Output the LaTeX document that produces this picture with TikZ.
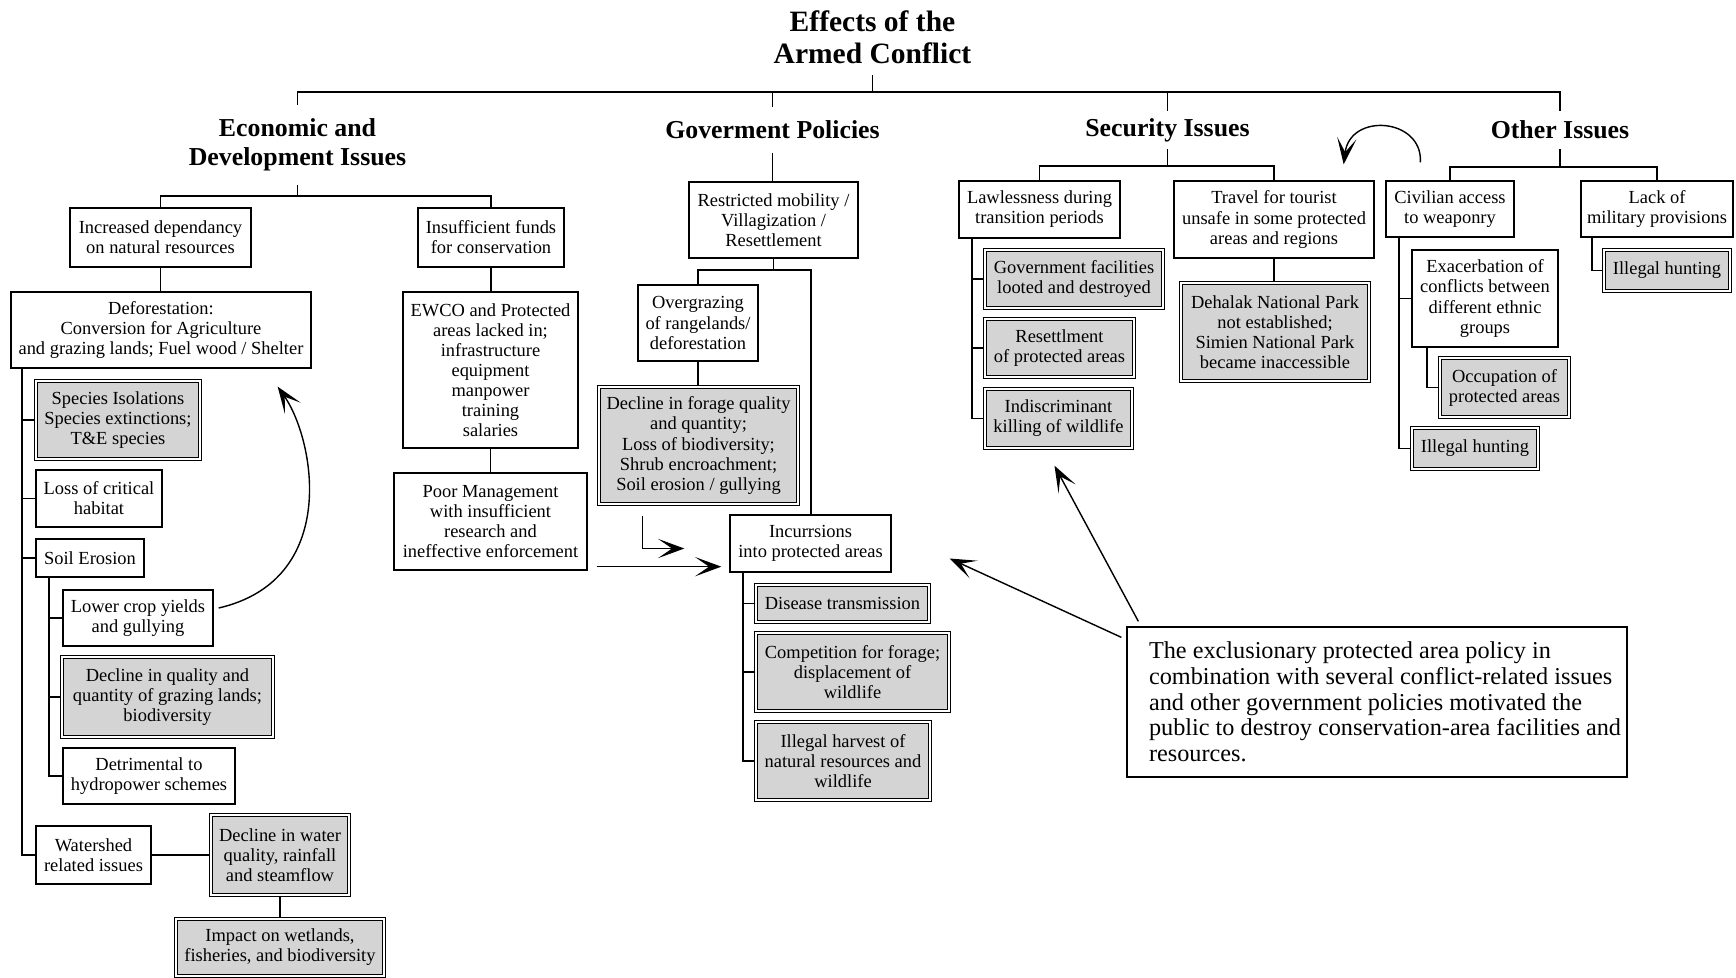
\documentclass[tikz,border=0pt]{standalone}
\usepackage{fontspec}
\setmainfont{Liberation Serif}
\usetikzlibrary{calc,arrows.meta}
\definecolor{boxgray}{RGB}{212,212,212}
\newcommand{\bx}[7][box]{\node[#1,minimum width={(#5-(#3))*0.02cm},minimum height={(#6-(#4))*0.02cm}] (#2) at ({(#3+#5)/2},{(#4+#6)/2}) {#7};}
\newcommand{\ind}{\hspace*{0.32cm}}
\begin{document}
\begin{tikzpicture}[x=0.02cm,y=-0.02cm,
  every node/.style={font=\fontsize{10.5}{11.4}\selectfont},
  box/.style={draw,line width=0.75pt,inner sep=0pt,align=center},
  gbox/.style={draw,line width=0.75pt,double=white,double distance=0.7pt,fill=boxgray,inner sep=0pt,align=center},
  hd/.style={inner sep=0pt,align=center,font=\bfseries\fontsize{14.7}{16.5}\selectfont},
  ttl/.style={inner sep=0pt,align=center,font=\bfseries\fontsize{16.8}{18.2}\selectfont},
  notebox/.style={draw,line width=0.75pt,inner sep=0pt,align=left,font=\fontsize{13.8}{14.6}\selectfont},
  ln/.style={line width=0.8pt},
  arr/.style={line width=0.8pt,-{Stealth[length=15pt,width=11pt,inset=8pt]}}]
\useasboundingbox (0,0) rectangle (1736,977);

% ---------- title and headings ----------
\bx[ttl]{title}{760}{0}{985}{75}{Effects of the\\Armed Conflict}
\bx[hd]{econ}{190}{105}{405}{185}{Economic and\\Development Issues}
\bx[hd]{gov}{660}{107}{885}{153}{Goverment Policies}
\bx[hd]{sec}{1060}{111}{1275}{149}{Security Issues}
\bx[hd]{other}{1440}{111}{1680}{149}{Other Issues}
\coordinate (bar) at (0,92);
\draw[ln] (econ.north) |- (other.north |- bar) -- (other.north);
\draw[ln] (gov.north) -- (gov.north |- bar);
\draw[ln] (sec.north) -- (sec.north |- bar);
\draw[ln] (title.south) -- (title.south |- bar);

% ---------- economic ----------
\bx{incr}{70}{208}{251}{267}{Increased dependancy\\on natural resources}
\bx{insuff}{418}{208}{564}{267}{Insufficient funds\\for conservation}
\coordinate (eb) at (0,196);
\draw[ln] (econ.south) -- (econ.south |- eb);
\draw[ln] (incr.north) |- (insuff.north |- eb) -- (insuff.north);
\bx{deforest}{11}{292}{311}{368}{Deforestation:\\Conversion for Agriculture\\and grazing lands; Fuel wood / Shelter}
\draw[ln] (incr.south) -- (incr.south |- deforest.north);
\bx{ewco}{403}{292}{578}{448}{EWCO and Protected\\areas lacked in;\\infrastructure\\equipment\\manpower\\training\\salaries}
\bx{poor}{394}{473}{587}{570}{Poor Management\\with insufficient\\research and\\ineffective enforcement}
\draw[ln] (insuff.south) -- (insuff.south |- ewco.north);
\draw[ln] (ewco.south) -- (ewco.south |- poor.north);

\bx[gbox]{species}{36}{381}{200}{459}{Species Isolations\\Species extinctions;\\T\&E species}
\bx{loss}{36}{470}{162}{527}{Loss of critical\\habitat}
\bx{soil}{36}{539}{144}{577}{Soil Erosion}
\bx{water}{36}{826}{151}{884}{Watershed\\related issues}
\coordinate (t1) at (22,0);
\draw[ln] (deforest.south -| t1) |- (water.west);
\foreach \n in {species,loss,soil} \draw[ln] (\n.west) -- (\n.west -| t1);

\bx{lower}{63}{590}{213}{646}{Lower crop yields\\and gullying}
\bx[gbox]{graz}{62}{657}{273}{737}{Decline in quality and\\quantity of grazing lands;\\biodiversity}
\bx{hydro}{63}{748}{235}{804}{Detrimental to\\hydropower schemes}
\coordinate (t2) at (49,0);
\draw[ln] (soil.south -| t2) |- (hydro.west);
\foreach \n in {lower,graz} \draw[ln] (\n.west) -- (\n.west -| t2);

\bx[gbox]{wq}{211}{815}{349}{895}{Decline in water\\quality, rainfall\\and steamflow}
\bx[gbox]{impact}{176}{919}{384}{976}{Impact on wetlands,\\fisheries, and biodiversity}
\draw[ln] (water.east) -- (water.east -| wq.west);
\draw[ln] (wq.south) -- (wq.south |- impact.north);

\draw[arr] ($(lower.east)+(5,-10)$) .. controls (340,580) and (315,440) .. ($(deforest.south east)+(-34,18)$);

% ---------- government ----------
\bx{restr}{689}{182}{858}{258}{Restricted mobility /\\Villagization /\\Resettlement}
\draw[ln] (gov.south) -- (gov.south |- restr.north);
\bx{over}{638}{285}{758}{361}{Overgrazing\\of rangelands/\\deforestation}
\bx[gbox]{forage}{599}{387}{798}{504}{Decline in forage quality\\and quantity;\\Loss of biodiversity;\\Shrub encroachment;\\Soil erosion / gullying}
\bx{incur}{730}{515}{891}{572}{Incurrsions\\into protected areas}
\coordinate (gb) at (0,270);
\coordinate (gr) at (811,270);
\draw[ln] (restr.south) -- (restr.south |- gb);
\draw[ln] (over.north) |- (gr) -- (gr |- incur.north);
\draw[ln] (over.south) -- (over.south |- forage.north);
\draw[arr] ($(forage.south)+(-56,11)$) |- ($(incur.west)+(-45,5)$);
\draw[arr] ($(poor.south east)+(9,-4)$) -- ($(incur.south west)+(-8,-6)$);

\bx[gbox]{dis}{756}{585}{929}{622}{Disease transmission}
\bx[gbox]{comp}{756}{633}{949}{711}{Competition for forage;\\displacement of\\wildlife}
\bx[gbox]{harv}{756}{722}{930}{800}{Illegal harvest of\\natural resources and\\wildlife}
\coordinate (t3) at (743,0);
\draw[ln] (incur.south -| t3) |- (harv.west);
\foreach \n in {dis,comp} \draw[ln] (\n.west) -- (\n.west -| t3);

% ---------- security ----------
\bx{law}{959}{181}{1120}{238}{Lawlessness during\\transition periods}
\bx{travel}{1174}{181}{1374}{258}{Travel for tourist\\unsafe in some protected\\areas and regions}
\coordinate (sb) at (0,166);
\draw[ln] (sec.south) -- (sec.south |- sb);
\draw[ln] (law.north) |- (travel.north |- sb) -- (travel.north);
\bx[gbox]{govf}{985}{250}{1163}{308}{Government facilities\\looted and destroyed}
\bx[gbox]{reset}{985}{319}{1134}{377}{Resettlment\\of protected areas}
\bx[gbox]{indis}{985}{389}{1132}{448}{Indiscriminant\\killing of wildlife}
\coordinate (t4) at (972,0);
\draw[ln] (law.south -| t4) |- (indis.west);
\foreach \n in {govf,reset} \draw[ln] (\n.west) -- (\n.west -| t4);
\bx[gbox]{dehalak}{1181}{283}{1369}{381}{Dehalak National Park\\not established;\\Simien National Park\\became inaccessible}
\draw[ln] (travel.south) -- (travel.south |- dehalak.north);

% ---------- other ----------
\bx{civ}{1386}{181}{1514}{237}{Civilian access\\to weaponry}
\bx{lack}{1581}{181}{1733}{237}{Lack of\\military provisions}
\coordinate (ob) at (0,167);
\draw[ln] (other.south) -- (other.south |- ob);
\draw[ln] (civ.north) |- (lack.north |- ob) -- (lack.north);
\bx{exac}{1412}{250}{1558}{347}{Exacerbation of\\conflicts between\\different ethnic\\groups}
\bx[gbox]{occ}{1440}{358}{1569}{417}{Occupation of\\protected areas}
\bx[gbox]{ihl}{1412}{428}{1538}{469}{Illegal hunting}
\bx[gbox]{ihr}{1604}{250}{1730}{291}{Illegal hunting}
\coordinate (t5) at (1399,0);
\draw[ln] (civ.south -| t5) |- (ihl.west);
\draw[ln] (exac.west) -- (exac.west -| t5);
\coordinate (t6) at (1427,0);
\draw[ln] (exac.south -| t6) |- (occ.west);
\coordinate (t7) at (1592,0);
\draw[ln] (lack.south -| t7) |- (ihr.west);

\draw[arr] ($(civ.north west)+(35,-18)$) .. controls (1423,118) and (1350,112) .. ($(travel.north east)+(-31,-16)$);

% ---------- note ----------
\bx[notebox]{note}{1127}{627}{1627}{777}{\ind The exclusionary protected area policy in\\\ind combination with several conflict-related issues\\\ind and other government policies motivated the\\\ind public to destroy conservation-area facilities and\\\ind resources.}
\draw[arr] ($(note.north west)+(12,-5)$) -- ($(indis.south)+(-4,17)$);
\draw[arr] ($(note.north west)+(-5,11)$) -- ($(incur.east)+(58,15)$);
\end{tikzpicture}
\end{document}
